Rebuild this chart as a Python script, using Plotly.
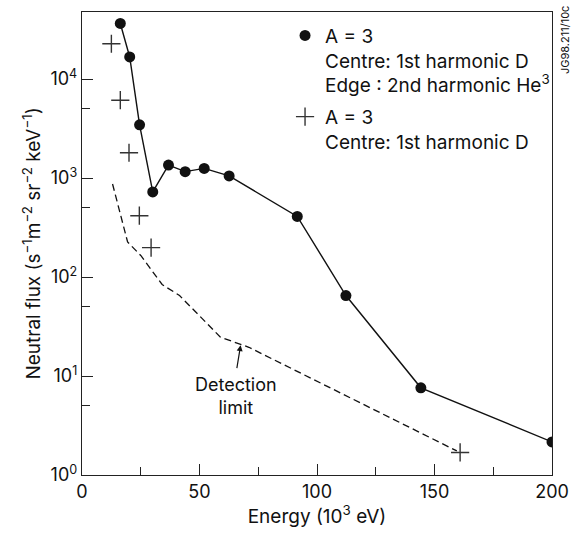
import plotly.graph_objects as go
import math

# ---- data ----
circ_E = [16.3, 20.3, 24.5, 30.1, 36.8, 43.9, 52.0, 62.6, 91.6, 112.3, 144.2, 200.0]
circ_F = [36400, 16700, 3450, 724, 1350, 1160, 1250, 1050, 409, 65, 7.6, 2.16]

cross_E = [12.5, 16.3, 20.0, 24.4, 29.4, 160.9]
cross_F = [22700, 6110, 1800, 416, 198, 1.69]

det_E = [13.0, 19.4, 25.0, 34.1, 41.5, 58.9, 71.0, 159.5]
det_F = [870, 226, 165, 84, 65, 24.7, 19.5, 1.75]

x_ticks = [0, 50, 100, 150, 200]
x_minor = [25, 75, 125, 175]
y_ticks = [1, 10, 100, 1000, 10000]
y_ticktext = ["10<sup>0</sup>", "10<sup>1</sup>", "10<sup>2</sup>", "10<sup>3</sup>", "10<sup>4</sup>"]
y_minor = [5, 50, 500, 5000]

name1 = "A = 3<br>Centre: 1st harmonic D<br>Edge : 2nd harmonic He<sup>3</sup>"
name2 = "A = 3<br>Centre: 1st harmonic D"

FONT = "Inter, Liberation Sans, Arial, sans-serif"
INK = "#111111"

fig = go.Figure()

fig.add_trace(go.Scatter(x=det_E, y=det_F, mode="lines",
                         line=dict(color=INK, width=1.3, dash="7px,4px"),
                         showlegend=False, hoverinfo="skip"))
fig.add_trace(go.Scatter(x=circ_E, y=circ_F, mode="lines",
                         line=dict(color=INK, width=1.4),
                         showlegend=False, hoverinfo="skip"))
fig.add_trace(go.Scatter(x=circ_E, y=circ_F, mode="markers", name=name1,
                         legendgroup="g1",
                         marker=dict(symbol="circle", size=11, color=INK)))
fig.add_trace(go.Scatter(x=cross_E, y=cross_F, mode="markers", name=name2,
                         legendgroup="g2",
                         marker=dict(symbol="cross-thin-open", size=13, color="#333333",
                                     line=dict(color="#333333", width=1.4))))

# Detection limit label + arrow
fig.add_annotation(x=65.4, y=0.80, xref="x", yref="y", text="Detection<br>limit",
                   showarrow=False, font=dict(family=FONT, size=18, color=INK))
fig.add_annotation(x=67.5, y=math.log10(20.5), xref="x", yref="y",
                   ax=65.8, ay=math.log10(11.6), axref="x", ayref="y",
                   text="", showarrow=True, arrowhead=2, arrowsize=1,
                   arrowwidth=1.2, arrowcolor=INK)
# Figure reference code
fig.add_annotation(x=1.0, y=1.0, xref="paper", yref="paper", xanchor="left", yanchor="top",
                   xshift=4, yshift=8,
                   text="JG98.211/10c", textangle=-90, showarrow=False,
                   font=dict(family=FONT, size=11, color=INK))

fig.update_layout(
    width=581, height=534,
    margin=dict(l=82, r=29, t=11, b=52),
    paper_bgcolor="white", plot_bgcolor="white",
    font=dict(family=FONT, size=18, color=INK),
    legend=dict(x=0.432, y=0.99, xanchor="left", yanchor="top",
                bgcolor="rgba(0,0,0,0)", font=dict(family=FONT, size=19, color=INK),
                valign="top", tracegroupgap=4, itemwidth=30),
    xaxis=dict(range=[0, 200], showgrid=False, zeroline=False,
               showline=True, linecolor="#222222", linewidth=1.3, mirror=True,
               ticks="inside", ticklen=11, tickwidth=1.2, tickcolor="#222222",
               tickvals=x_ticks, ticktext=[str(v) for v in x_ticks],
               minor=dict(tickvals=x_minor, ticks="inside", ticklen=8,
                          tickwidth=1.2, tickcolor="#222222", showgrid=False),
               title=dict(text="Energy (10<sup>3</sup> eV)", standoff=8,
                          font=dict(family=FONT, size=19, color=INK)),
               tickfont=dict(family=FONT, size=18, color=INK)),
    yaxis=dict(type="log", range=[0, 4.677], showgrid=False, zeroline=False,
               showline=True, linecolor="#222222", linewidth=1.3, mirror=True,
               ticks="inside", ticklen=11, tickwidth=1.2, tickcolor="#222222",
               tickvals=y_ticks, ticktext=y_ticktext,
               minor=dict(tickvals=y_minor, ticks="inside", ticklen=8,
                          tickwidth=1.2, tickcolor="#222222", showgrid=False),
               title=dict(text="Neutral flux (s<sup>−1</sup>m<sup>−2</sup> sr<sup>−2</sup> keV<sup>−1</sup>)",
                          standoff=4, font=dict(family=FONT, size=19, color=INK)),
               tickfont=dict(family=FONT, size=18, color=INK)),
)

fig.write_html("out.html")
